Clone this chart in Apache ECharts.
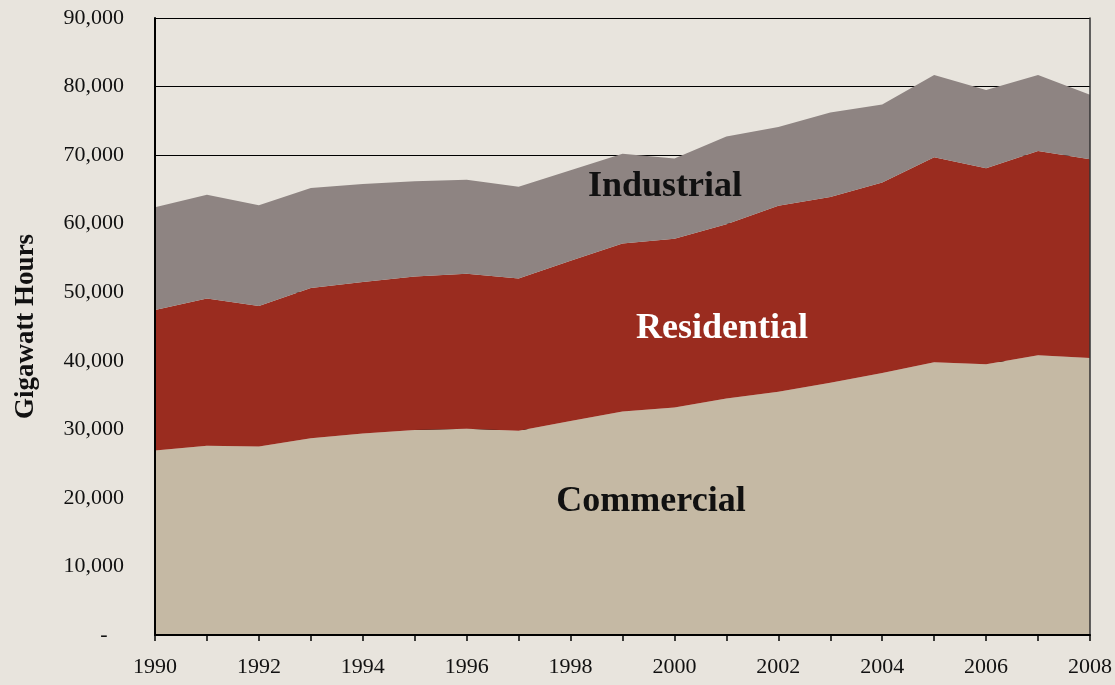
<!DOCTYPE html>
<html>
<head>
<meta charset="utf-8">
<script src="https://cdn.jsdelivr.net/npm/echarts@6/dist/echarts.min.js"></script>
<style>
  html, body { margin: 0; padding: 0; background: #e8e4dd; }
  #chart { width: 1115px; height: 685px; }
</style>
</head>
<body>
<div id="chart"></div>
<script>
// years on the x axis
var years = ['1990', '1991', '1992', '1993', '1994', '1995', '1996', '1997', '1998', '1999',
             '2000', '2001', '2002', '2003', '2004', '2005', '2006', '2007', '2008'];

// gigawatt hours, stacked bottom -> top
var commercial  = [26900, 27600, 27500, 28700, 29400, 29900, 30100, 29800, 31200, 32600,
                   33200, 34500, 35500, 36800, 38200, 39800, 39500, 40800, 40400];
var residential = [20500, 21500, 20500, 21900, 22100, 22400, 22600, 22200, 23400, 24500,
                   24600, 25400, 27100, 27100, 27800, 29900, 28600, 29800, 29000];
var industrial  = [15000, 15100, 14700, 14600, 14300, 13900, 13700, 13400, 13200, 13100,
                   11700, 12800, 11500, 12300, 11400, 12000, 11400, 11100, 9400];

var serif = '"Liberation Serif", "Times New Roman", serif';

var myChart = echarts.init(document.getElementById('chart'));

function areaSeries(name, data, color) {
  return {
    name: name,
    type: 'line',
    stack: 'total',
    data: data,
    symbol: 'none',
    lineStyle: { width: 0 },
    areaStyle: { color: color, opacity: 1 },
    itemStyle: { color: color }
  };
}

// plain frame axis drawn over the areas
function frameAxis(pos, color, width) {
  return {
    type: 'value',
    position: pos,
    min: 0,
    max: 90000,
    interval: 10000,
    z: 5,
    axisLine: { show: true, lineStyle: { color: color, width: width } },
    axisTick: { show: false },
    axisLabel: { show: false },
    splitLine: { show: false }
  };
}

var option = {
  backgroundColor: '#e8e4dd',
  animation: false,
  grid: { left: 155, right: 25, top: 18, bottom: 50 },
  xAxis: {
    type: 'category',
    data: years,
    boundaryGap: false,
    z: 5,
    axisLine: { lineStyle: { color: '#000', width: 2 } },
    axisTick: { show: true, interval: 0, length: 6, lineStyle: { color: '#000', width: 1.5 } },
    axisLabel: {
      interval: 1,
      margin: 21,
      color: '#111',
      fontFamily: serif,
      fontSize: 22
    }
  },
  yAxis: [
    {
      type: 'value',
      min: 0,
      max: 90000,
      interval: 10000,
      name: 'Gigawatt Hours',
      nameLocation: 'middle',
      nameGap: 115,
      nameTextStyle: { fontFamily: serif, fontSize: 27, fontWeight: 'bold', color: '#111' },
      axisLine: { show: false },
      axisTick: { show: false },
      splitLine: { show: true, lineStyle: { color: '#000', width: 1.2 } },
      axisLabel: {
        margin: 31,
        color: '#111',
        fontFamily: serif,
        fontSize: 22,
        formatter: function (v) {
          return v === 0 ? '-   ' : v.toLocaleString('en-US');
        }
      }
    },
    frameAxis('left', '#000', 2),
    frameAxis('right', '#333', 1.5)
  ],
  series: [
    areaSeries('Commercial', commercial, '#c5b9a4'),
    areaSeries('Residential', residential, '#9a2c1f'),
    areaSeries('Industrial', industrial, '#8e8482')
  ],
  graphic: [
    { type: 'text', x: 665, y: 187, z: 100,
      style: { text: 'Industrial', fill: '#111', font: 'bold 36px ' + serif, textAlign: 'center', textVerticalAlign: 'middle' } },
    { type: 'text', x: 722, y: 329, z: 100,
      style: { text: 'Residential', fill: '#fff', font: 'bold 36px ' + serif, textAlign: 'center', textVerticalAlign: 'middle' } },
    { type: 'text', x: 651, y: 502, z: 100,
      style: { text: 'Commercial', fill: '#111', font: 'bold 36px ' + serif, textAlign: 'center', textVerticalAlign: 'middle' } }
  ]
};

myChart.setOption(option);
window.onresize = function () { myChart.resize(); };
</script>
</body>
</html>
